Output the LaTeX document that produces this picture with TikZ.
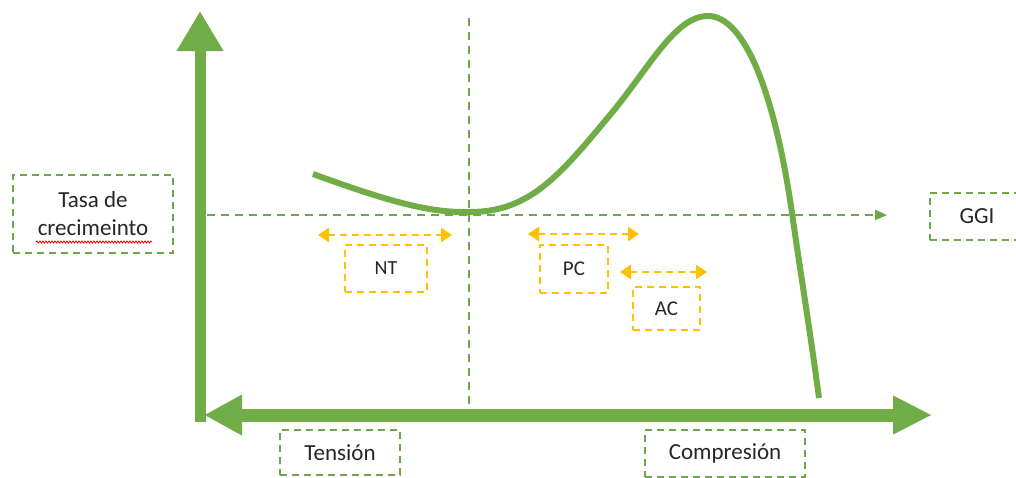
\documentclass[tikz,border=0pt]{standalone}
\usepackage{fontspec}
\setmainfont{Carlito}
\usetikzlibrary{arrows.meta,decorations.pathmorphing}
\definecolor{ggreen}{HTML}{70AD47}
\definecolor{dgreen}{HTML}{6EA64A}
\definecolor{gorange}{HTML}{FFC000}
\definecolor{gtext}{HTML}{262626}
\begin{document}
\begin{tikzpicture}[x=1pt,y=-1pt,
  gbox/.style={draw=dgreen, line width=1.8pt, dash pattern=on 7pt off 5pt, rectangle, inner sep=0pt, text=gtext, font=\fontsize{23}{28}\selectfont, align=center},
  obox/.style={draw=gorange, line width=2.2pt, dash pattern=on 7pt off 5pt, rectangle, inner sep=0pt, text=gtext, font=\fontsize{21}{24}\selectfont},
  oarrow/.style={draw=gorange, line width=2.6pt, dash pattern=on 7pt off 5pt, {Triangle[length=11pt,width=14pt]}-{Triangle[length=11pt,width=14pt]}},
  guide/.style={draw=dgreen, line width=2pt, dash pattern=on 8pt off 6pt},
  axis/.style={draw=ggreen, fill=ggreen}
]
\useasboundingbox (0,0) rectangle (1016,477);
\clip (0,0) rectangle (1016,477);
\fill[white] (0,0) rectangle (1016,477);

% guides
\coordinate (gl) at (207,215);
\coordinate (gr) at (887,215);
\draw[guide, -{Triangle[length=12pt,width=10pt]}] (gl) -- (gr);
\coordinate (vt2) at (469,18);
\coordinate (vb2) at (469,405);
\draw[guide] (vt2) -- (vb2);

% axes
\coordinate (vb) at (200,422);
\coordinate (vt) at (200,11);
\draw[axis, line width=11pt, -{Triangle[length=40pt,width=44pt]}] (vb) -- (vt);
\coordinate (hl) at (204,415);
\coordinate (hr) at (932,415);
\draw[axis, line width=13pt, {Triangle[length=38pt,width=38pt]}-{Triangle[length=39pt,width=36pt]}] (hl) -- (hr);

% curve
\draw[ggreen, line width=6pt] (313,174) .. controls (390,202) and (430,213) .. (470,212)
  .. controls (530,212) and (560,175) .. (610,115)
  .. controls (650,67) and (675,16) .. (708,16)
  .. controls (745,16) and (775,95) .. (792,213)
  .. controls (800,270) and (810,330) .. (819,398);

% green label boxes
\node[gbox, minimum width=160pt, minimum height=78pt] (tasa) at (93,214) {Tasa de\\crecimeinto};
\node[gbox, minimum width=94pt, minimum height=47pt] (ggi) at (977,216.5) {GGI};
\node[gbox, minimum width=120pt, minimum height=45pt] (tension) at (340,452.5) {Tensión};
\node[gbox, minimum width=160pt, minimum height=47pt] (comp) at (725,453.5) {Compresión};

% red spell-check underline
\coordinate (sl) at (36,242);
\coordinate (sr) at (152,242);
\draw[red!85!black, line width=0.8pt, decorate, decoration={snake, amplitude=1pt, segment length=3pt}] (sl) -- (sr);

% orange boxes and arrows
\node[obox, minimum width=82pt, minimum height=47pt, font=\fontsize{20}{23}\selectfont] (nt) at (386,268.5) {NT};
\node[obox, minimum width=68pt, minimum height=48pt] (pc) at (574,269) {PC};
\node[obox, minimum width=67pt, minimum height=43pt] (ac) at (666.5,308.5) {AC};

\coordinate (nta) at (318,235);
\coordinate (ntb) at (452,235);
\draw[oarrow] (nta) -- (ntb);
\coordinate (pca) at (528,234);
\coordinate (pcb) at (639,234);
\draw[oarrow] (pca) -- (pcb);
\coordinate (aca) at (620,272);
\coordinate (acb) at (707,272);
\draw[oarrow] (aca) -- (acb);
\end{tikzpicture}
\end{document}
